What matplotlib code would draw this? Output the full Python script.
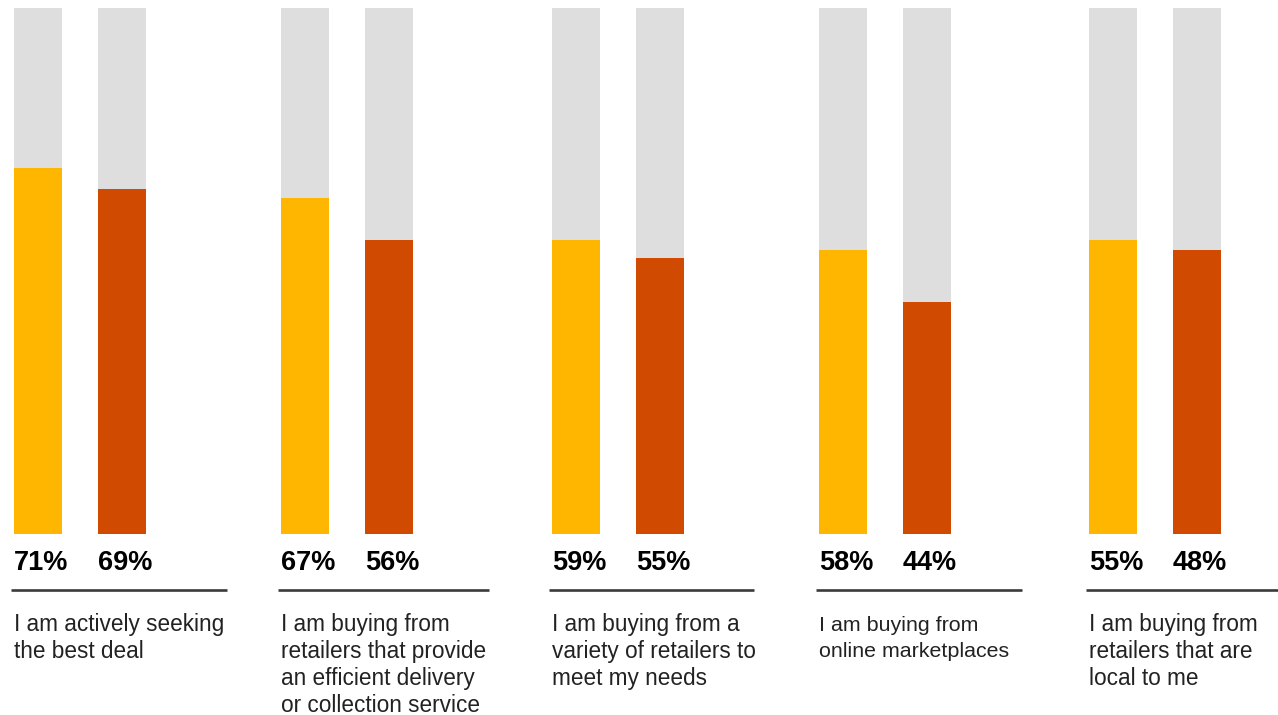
import matplotlib
matplotlib.use("Agg")
import matplotlib.pyplot as plt

# statements shown under each pair of bars
categories = [
    "I am actively seeking\nthe best deal",
    "I am buying from\nretailers that provide\nan efficient delivery\nor collection service",
    "I am buying from a\nvariety of retailers to\nmeet my needs",
    "I am buying from\nonline marketplaces",
    "I am buying from\nretailers that are\nlocal to me",
]
# bar heights as drawn (share of the full grey bar, %)
first_values = [69.5, 63.8, 55.8, 53.9, 55.8]
second_values = [65.5, 55.8, 52.4, 44.0, 53.9]
# printed labels
first_labels = ["71%", "67%", "59%", "58%", "55%"]
second_labels = ["69%", "56%", "55%", "44%", "48%"]
full_scale = [100, 100, 100, 100, 100]

YELLOW = "#FFB600"
ORANGE = "#D04A02"
GREY = "#DEDEDE"

plt.rcParams["font.family"] = ["Liberation Sans", "DejaVu Sans"]

W, H = 1278, 715
fig = plt.figure(figsize=(W / 100, H / 100), dpi=100)
base_px, top_px = 533.5, 8
ax = fig.add_axes([0, (H - base_px) / H, 1, (base_px - top_px) / H])
ax.set_xlim(0, W)
ax.set_ylim(0, 100)
ax.axis("off")

n = len(categories)
bar_w = 48
gap = 84
lefts = [14, 281, 552, 819, 1089]       # pixel layout of each group
rule_ends = [227, 489, 754, 1022, 1278]  # right end of the rule under each group
text_size = [16.3, 16.3, 16.3, 15.4, 16.3]
line_step = [27, 27, 27, 26, 27]
lefts2 = [x + gap for x in lefts]

ax.bar(lefts, full_scale, width=bar_w, align="edge", color=GREY, zorder=1)
ax.bar(lefts2, full_scale, width=bar_w, align="edge", color=GREY, zorder=1)
ax.bar(lefts, first_values, width=bar_w, align="edge", color=YELLOW, zorder=2)
ax.bar(lefts2, second_values, width=bar_w, align="edge", color=ORANGE, zorder=2)

span = base_px - top_px
tr = ax.get_xaxis_transform()
def below(px):
    return -(px - base_px) / span

for i in range(n):
    ax.text(lefts[i], below(570), first_labels[i], transform=tr, fontsize=19.5,
            fontweight="bold", color="#000000", ha="left", va="baseline")
    ax.text(lefts2[i], below(570), second_labels[i], transform=tr, fontsize=19.5,
            fontweight="bold", color="#000000", ha="left", va="baseline")
    ax.plot([lefts[i] - 3, rule_ends[i]], [below(590)] * 2, transform=tr,
            color="#3a3a3a", lw=1.9, clip_on=False, solid_capstyle="butt")
    for k, line in enumerate(categories[i].split("\n")):
        ax.text(lefts[i], below(631 + k * line_step[i]), line, transform=tr,
                fontsize=text_size[i], color="#222222", ha="left", va="baseline")

fig.savefig("out.png", dpi=100, facecolor="white")
